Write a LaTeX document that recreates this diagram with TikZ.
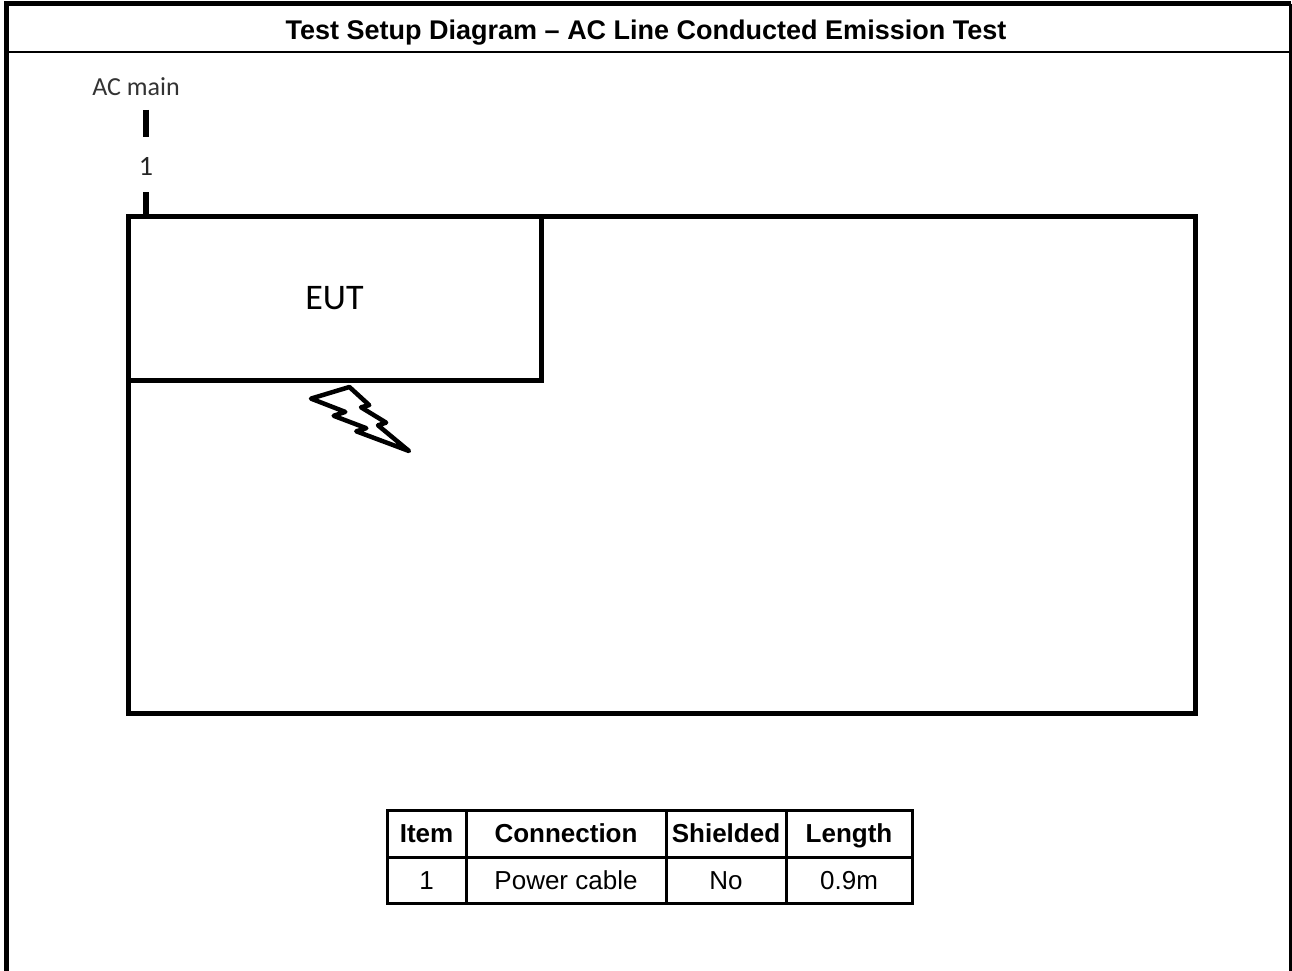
\documentclass[tikz,border=0pt]{standalone}
\usepackage{fontspec}
\setmainfont{Liberation Sans}
\newfontfamily\calib{Carlito}
\begin{document}
\begin{tikzpicture}[x=1pt,y=-1pt,
  boxline/.style={draw, line width=5pt, line join=miter},
  cable/.style={line width=6pt},
  cell/.style={draw, line width=3pt, inner sep=0pt, outer sep=0pt,
    font=\fontsize{26}{30}\selectfont, text height=18.6pt, text depth=0pt},
  hcell/.style={cell, font=\fontsize{26}{30}\selectfont\bfseries},
  bolt/.style={line width=4.5pt, line join=round, line cap=round}
]
\useasboundingbox (0,0) rectangle (1292,971);
% outer frame
\draw[line width=5pt] (6.5,971) -- (6.5,4) -- (1290.5,4);
\draw[line width=3pt] (1290.5,4) -- (1290.5,971);
\draw[line width=2pt] (6.5,52) -- (1290.5,52);
\node[font=\fontsize{27}{32}\selectfont\bfseries, text height=19.3pt, text depth=0pt, inner sep=0pt] (title) at (646,29.5) {Test Setup Diagram -- AC Line Conducted Emission Test};
% test area and EUT
\draw[boxline] (128,216) rectangle (1195,713);
\node[boxline, minimum width=413pt, minimum height=164pt, inner sep=0pt,
  font=\calib\fontsize{36}{40}\selectfont, text height=23pt, text depth=0pt] (eut) at (334.5,298) {EUT};
% AC main cable
\node[font=\calib\fontsize{26}{30}\selectfont, text=black!80, anchor=base] (ac) at (136,96) {AC main};
\node[font=\calib\fontsize{28}{32}\selectfont, text=black!85, text height=18pt, text depth=0pt, inner sep=0pt] (n1) at (146,166) {1};
\coordinate (c1) at (146,110);
\coordinate (c2) at (146,137);
\coordinate (c3) at (146,192);
\draw[cable] (c1) -- (c2);
\draw[cable] (c3) -- (c3 |- eut.north);
% lightning bolt
\draw[bolt] (349.4,387.0) -- (311,398.6) -- (345.3,411.9) -- (333.7,415.8)
  -- (366.3,428.2) -- (356.3,431.3) -- (409,451) -- (378.0,425.3)
  -- (386.1,422.6) -- (361.0,407.3) -- (369.2,405.1) -- cycle;
% table
\node[hcell, minimum width=79pt, minimum height=47pt] (h1) at (426.5,833.5) {Item};
\node[hcell, minimum width=200pt, minimum height=47pt] (h2) at (566,833.5) {Connection};
\node[hcell, minimum width=120pt, minimum height=47pt] (h3) at (726,833.5) {Shielded};
\node[hcell, minimum width=126pt, minimum height=47pt] (h4) at (849,833.5) {Length};
\node[cell, minimum width=79pt, minimum height=46pt] (r1) at (426.5,880) {1};
\node[cell, minimum width=200pt, minimum height=46pt] (r2) at (566,880) {Power cable};
\node[cell, minimum width=120pt, minimum height=46pt] (r3) at (726,880) {No};
\node[cell, minimum width=126pt, minimum height=46pt] (r4) at (849,880) {0.9m};
\end{tikzpicture}
\end{document}
